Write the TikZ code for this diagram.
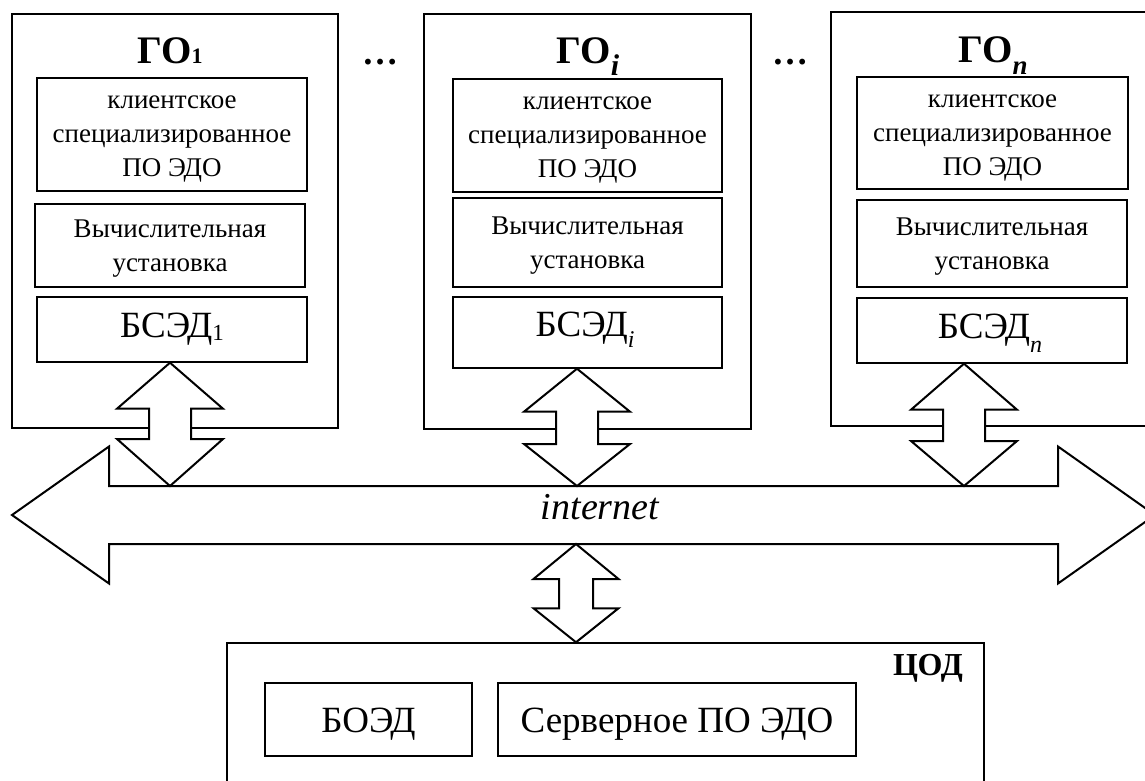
\documentclass[tikz,border=0pt]{standalone}
\usepackage{fontspec}
\setmainfont{Liberation Serif}
\usetikzlibrary{fit,calc}
% #1 top point, #2 bottom point, #3 head half width, #4 shaft half width, #5 top head length, #6 bottom head length
\newcommand\VArrow[6]{%
  \draw[bigarrow] let \p1=(#1), \p2=(#2) in
    (\x1,\y1) -- (\x1+#3,\y1-#5) -- (\x1+#4,\y1-#5) -- (\x1+#4,\y2+#6)
    -- (\x1+#3,\y2+#6) -- (\x1,\y2) -- (\x1-#3,\y2+#6) -- (\x1-#4,\y2+#6)
    -- (\x1-#4,\y1-#5) -- (\x1-#3,\y1-#5) -- cycle;}
\begin{document}
\begin{tikzpicture}[x=1pt,y=-1pt,
  outer/.style={draw, line width=2pt, inner sep=0pt},
  inbox/.style={draw, line width=1.4pt, inner sep=0pt},
  intext/.style={inner sep=0pt, align=center, font=\fontsize{27}{34}\selectfont},
  bigtext/.style={inner sep=0pt, align=center, font=\fontsize{37}{40}\selectfont},
  bigarrow/.style={draw, fill=white, line width=2pt, line join=miter},
  title/.style={font=\fontsize{39}{39}\selectfont\bfseries, anchor=base, inner sep=0pt},
  dots/.style={font=\fontsize{36}{36}\selectfont\bfseries, anchor=base, inner sep=0pt},
]
\clip (0,0) rectangle (1145,780);
\fill[white] (0,0) rectangle (1145,780);

% ---- GO 1
\node[outer, fit={(12,14) (338,428)}] (g1) {};
\node[title] (t1) at (170,63) {ГО{\fontsize{22}{22}\selectfont 1}};
\node[inbox, fit={(37,78) (307,191)}] (k1) {};
\node[intext] (k1t) at ($(k1.center)+(0,5)$) {клиентское\\специализированное\\ПО ЭДО};
\node[inbox, fit={(35,204) (305,287)}] (v1) {};
\node[intext] (v1t) at ($(v1.center)+(0,3)$) {Вычислительная\\установка};
\node[inbox, fit={(37,297) (307,362)}] (b1) {};
\node[bigtext, anchor=base] (b1t) at (172,337) {БСЭД\raisebox{-3pt}{\fontsize{23}{23}\selectfont 1}};

% ---- GO i
\node[outer, fit={(424,14) (751,429)}] (g2) {};
\node[title] (t2) at (588,63) {ГО\raisebox{-12pt}{\fontsize{30}{30}\selectfont\bfseries\itshape i}};
\node[inbox, fit={(453,79) (722,192)}] (k2) {};
\node[intext] (k2t) at ($(k2.center)+(0,5)$) {клиентское\\специализированное\\ПО ЭДО};
\node[inbox, fit={(453,198) (722,287)}] (v2) {};
\node[intext] (v2t) at ($(v2.center)+(0,3)$) {Вычислительная\\установка};
\node[inbox, fit={(453,297) (722,368)}] (b2) {};
\node[bigtext, anchor=base] (b2t) at (585,336) {БСЭД\raisebox{-11pt}{\fontsize{24}{24}\selectfont\itshape i}};

% ---- GO n
\node[outer, fit={(831,12) (1170,426)}] (g3) {};
\node[title] (t3) at (993,62) {ГО\raisebox{-12pt}{\fontsize{27}{27}\selectfont\bfseries\itshape n}};
\node[inbox, fit={(857,77) (1128,189)}] (k3) {};
\node[intext] (k3t) at ($(k3.center)+(0,5)$) {клиентское\\специализированное\\ПО ЭДО};
\node[inbox, fit={(857,200) (1127,287)}] (v3) {};
\node[intext] (v3t) at ($(v3.center)+(0,3)$) {Вычислительная\\установка};
\node[inbox, fit={(857,298) (1127,363)}] (b3) {};
\node[bigtext, anchor=base] (b3t) at (990,338) {БСЭД\raisebox{-14pt}{\fontsize{24}{24}\selectfont\itshape n}};

% ---- dots
\node[dots] (d1) at (380,64) {…};
\node[dots] (d2) at (790,64) {…};

% ---- internet arrow
\coordinate (nL) at (12,515);
\coordinate (nR) at (1155,515);
\coordinate (nettop) at (0,486);
\coordinate (netbot) at (0,544);
\draw[bigarrow] (nL) -- (109,446.5) -- (109,486) -- (1058,486)
  -- (1058,446.5) -- (nR) -- (1058,583.5) -- (1058,544) -- (109,544)
  -- (109,583.5) -- cycle;
\node[font=\fontsize{38}{38}\selectfont\itshape, anchor=base, inner sep=0pt] (net) at (600,519) {internet};

% ---- COD
\node[draw, line width=1.5pt, inner sep=0pt, fit={(227,643) (984,800)}] (cod) {};
\node[font=\fontsize{32}{32}\selectfont\bfseries, anchor=base east, inner sep=0pt] (codl) at (963,675) {ЦОД};
\node[inbox, fit={(265,683) (472,756)}] (boed) {};
\node[bigtext, anchor=base] (boedt) at (boed.center |- 0,732) {БОЭД};
\node[inbox, fit={(498,683) (856,756)}] (serv) {};
\node[bigtext, anchor=base] (servt) at (serv.center |- 0,732) {Серверное ПО ЭДО};

% ---- vertical arrows
\coordinate (x1) at (170,0);
\coordinate (x2) at (577,0);
\coordinate (x3) at (964,0);
\coordinate (x4) at (576,0);
\VArrow{x1 |- b1.south}{x1 |- nettop}{53pt}{21pt}{46pt}{47pt}
\VArrow{x2 |- b2.south}{x2 |- nettop}{53pt}{21pt}{43pt}{42pt}
\VArrow{x3 |- b3.south}{x3 |- nettop}{53pt}{21pt}{46pt}{45pt}
\VArrow{x4 |- netbot}{x4 |- cod.north}{42.5pt}{17pt}{35pt}{34pt}
\end{tikzpicture}
\end{document}
